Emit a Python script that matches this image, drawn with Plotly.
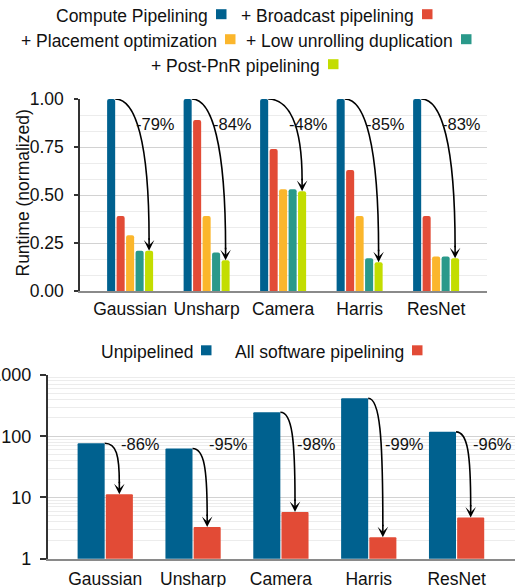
import numpy as np
import plotly.graph_objects as go

W, H = 515, 587
FONT = "Liberation Sans, Arial, sans-serif"

# ---------------- data ----------------
categories = ["Gaussian", "Unsharp", "Camera", "Harris", "ResNet"]

top_series = ["Compute Pipelining", "+ Broadcast pipelining", "+ Placement optimization",
              "+ Low unrolling duplication", "+ Post-PnR pipelining"]
compute_pipelining = [1.00, 1.00, 1.00, 1.00, 1.00]
broadcast_pipelining = [0.39, 0.89, 0.74, 0.63, 0.39]
placement_optimization = [0.29, 0.39, 0.53, 0.39, 0.18]
low_unrolling_duplication = [0.21, 0.20, 0.53, 0.17, 0.18]
post_pnr_pipelining = [0.21, 0.16, 0.52, 0.15, 0.17]
top_reduction = ["-79%", "-84%", "-48%", "-85%", "-83%"]

bottom_series = ["Unpipelined", "All software pipelining"]
unpipelined = [77, 63, 247, 418, 118]
all_software_pipelining = [11.3, 3.3, 5.8, 2.24, 4.7]
bottom_reduction = ["-86%", "-95%", "-98%", "-99%", "-96%"]

top_tickvals = [0, 0.25, 0.5, 0.75, 1.0]
top_ticktext = ["0.00", "0.25", "0.50", "0.75", "1.00"]
bottom_tickvals = [1, 10, 100, 1000]
bottom_ticktext = ["1", "10", "100", "1000"]

# ---------------- style ----------------
BLUE, RED, YELLOW, TEAL, LIME = "#00618F", "#E24B36", "#FBB62C", "#2A998A", "#C3DD00"
top_colors = [BLUE, RED, YELLOW, TEAL, LIME]
bottom_colors = [BLUE, RED]
top_values = [compute_pipelining, broadcast_pipelining, placement_optimization,
              low_unrolling_duplication, post_pnr_pipelining]
bottom_values = [unpipelined, all_software_pipelining]

XR = [-0.655, 4.665]
# plot areas in pixels (left, right, top, bottom)
TOP = (80, 487, 99, 291)
BOT = (47.7, 515, 375, 558.7)
TOP_YR = [0, 1.0]
BOT_YR = [0, 3]  # log10


def px2x(px, area):
    l, r = area[0], area[1]
    return XR[0] + (px - l) / (r - l) * (XR[1] - XR[0])


def x2px(x, area):
    l, r = area[0], area[1]
    return l + (x - XR[0]) / (XR[1] - XR[0]) * (r - l)


def py2top(py):
    t, b = TOP[2], TOP[3]
    return TOP_YR[0] + (b - py) / (b - t) * (TOP_YR[1] - TOP_YR[0])


def top2py(v):
    t, b = TOP[2], TOP[3]
    return b - (v - TOP_YR[0]) / (TOP_YR[1] - TOP_YR[0]) * (b - t)


def py2botlog(py):
    t, b = BOT[2], BOT[3]
    return BOT_YR[0] + (b - py) / (b - t) * (BOT_YR[1] - BOT_YR[0])


def bot2py(v):
    t, b = BOT[2], BOT[3]
    return b - (np.log10(v) - BOT_YR[0]) / (BOT_YR[1] - BOT_YR[0]) * (b - t)


fig = go.Figure()

# top bars
n_top = len(top_series)
top_group = 0.62
top_slot = top_group / n_top
top_bw = top_slot * 0.85
top_offsets = [-top_group / 2 + top_slot * i + (top_slot - top_bw) / 2 for i in range(n_top)]
xs = list(range(len(categories)))
for i in range(n_top):
    fig.add_trace(go.Bar(x=xs, y=top_values[i], name=top_series[i], width=top_bw,
                         offset=top_offsets[i], marker=dict(color=top_colors[i], line_width=0,
                                                            cornerradius=2),
                         showlegend=False, xaxis="x", yaxis="y"))

# bottom bars
n_bot = len(bottom_series)
bot_group = 0.642
bot_slot = bot_group / n_bot
bot_bw = bot_slot * 0.96
bot_offsets = [-bot_group / 2 + bot_slot * i + (bot_slot - bot_bw) / 2 for i in range(n_bot)]
for i in range(n_bot):
    fig.add_trace(go.Bar(x=xs, y=bottom_values[i], name=bottom_series[i], width=bot_bw,
                         offset=bot_offsets[i], marker=dict(color=bottom_colors[i], line_width=0,
                                                            cornerradius=1),
                         showlegend=False, xaxis="x2", yaxis="y2"))

shapes = []
annotations = []


def curve_path(p0, p3, a, b, conv_x, conv_y):
    x0, y0 = p0
    x3, y3 = p3
    p1 = (x0 + a * (x3 - x0), y0)
    p2 = (x3, y0 + b * (y3 - y0))
    pts = [p0, p1, p2, p3]
    s = [f"{conv_x(px):.5f},{conv_y(py):.6g}" for px, py in pts]
    return f"M{s[0]} C{s[1]} {s[2]} {s[3]}"


HEAD = 14
# top arrows
for j in range(len(categories)):
    x0 = x2px(j + top_offsets[0] + top_bw, TOP)
    y0 = top2py(compute_pipelining[j])
    xt = x2px(j + top_offsets[-1] + top_bw / 2, TOP)
    yt = top2py(post_pnr_pipelining[j])
    path = curve_path((x0, y0), (xt, yt - HEAD + 3), 0.6, 0.3,
                      lambda p: px2x(p, TOP), py2top)
    shapes.append(dict(type="path", path=path, xref="x", yref="y",
                       line=dict(color="black", width=1.6)))
    annotations.append(dict(x=px2x(xt, TOP), y=post_pnr_pipelining[j], xref="x", yref="y",
                            ax=0, ay=-HEAD, axref="pixel", ayref="pixel", text="",
                            showarrow=True, arrowhead=3, arrowsize=1.1, arrowwidth=1.6,
                            arrowcolor="black", standoff=0))
    annotations.append(dict(x=px2x(xt - 15, TOP), y=py2top(124), xref="x", yref="y",
                            text=top_reduction[j], showarrow=False, xanchor="left",
                            yanchor="middle", font=dict(size=16.5, color="#111", family=FONT)))

# bottom arrows
for j in range(len(categories)):
    x0 = x2px(j + bot_offsets[0] + bot_bw, BOT)
    y0 = bot2py(unpipelined[j])
    xt = x2px(j + bot_offsets[-1] + bot_bw / 2, BOT)
    yt = bot2py(all_software_pipelining[j])
    path = curve_path((x0, y0), (xt, yt - HEAD + 3), 0.8, 0.3,
                      lambda p: px2x(p, BOT), lambda p: 10 ** py2botlog(p))
    shapes.append(dict(type="path", path=path, xref="x2", yref="y2",
                       line=dict(color="black", width=1.6)))
    annotations.append(dict(x=px2x(xt, BOT), y=np.log10(all_software_pipelining[j]),
                            xref="x2", yref="y2", ax=0, ay=-HEAD, axref="pixel", ayref="pixel",
                            text="", showarrow=True, arrowhead=3, arrowsize=1.1, arrowwidth=1.6,
                            arrowcolor="black", standoff=0))
    annotations.append(dict(x=px2x(xt, BOT), y=py2botlog(444), xref="x2", yref="y2",
                            text=bottom_reduction[j], showarrow=False, xanchor="left",
                            yanchor="middle", font=dict(size=16.5, color="#111", family=FONT)))


# legends (text on the left, coloured square on the right)
def legend_item(text, color, sq_left, yc):
    shapes.append(dict(type="rect", xref="paper", yref="paper",
                       x0=sq_left / W, x1=(sq_left + 10.5) / W,
                       y0=1 - (yc + 5) / H, y1=1 - (yc - 5) / H,
                       fillcolor=color, line_width=0))
    annotations.append(dict(x=(sq_left - 6) / W, y=1 - (yc + 1.5) / H, xref="paper", yref="paper",
                            text=text, showarrow=False, xanchor="right", yanchor="middle",
                            font=dict(size=17.5, color="#111", family=FONT)))


top_legend_pos = [(216, 14.2), (422, 14.2), (225, 39.2), (461, 39.2), (328, 64.2)]
for i in range(n_top):
    legend_item(top_series[i], top_colors[i], *top_legend_pos[i])
bot_legend_pos = [(201, 350.3), (412, 350.3)]
for i in range(n_bot):
    legend_item(bottom_series[i], bottom_colors[i], *bot_legend_pos[i])

annotations.append(dict(x=22 / W, y=1 - 193.5 / H, xref="paper", yref="paper",
                        text="Runtime (normalized)", textangle=-90, showarrow=False,
                        xanchor="center", yanchor="middle",
                        font=dict(size=17.5, color="#111", family=FONT)))

axis_font = dict(size=17.5, color="#111", family=FONT)
fig.update_layout(
    template="none",
    width=W, height=H, margin=dict(l=0, r=0, t=0, b=0, autoexpand=False),
    paper_bgcolor="white", plot_bgcolor="white",
    barmode="overlay", font=dict(family=FONT, color="#111"),
    shapes=shapes, annotations=annotations, showlegend=False,
    xaxis=dict(domain=[TOP[0] / W, TOP[1] / W], anchor="y", range=XR, automargin=False,
               tickmode="array", tickvals=xs, ticktext=categories, ticks="",
               showgrid=False, zeroline=False, showline=True, linecolor="#8a8a8a",
               linewidth=2, tickfont=axis_font, ticklabelstandoff=1),
    yaxis=dict(domain=[1 - TOP[3] / H, 1 - TOP[2] / H], anchor="x", range=TOP_YR,
               automargin=False,
               tickmode="array", tickvals=top_tickvals, ticktext=top_ticktext,
               ticks="outside", ticklen=4, tickwidth=1.5, tickcolor="#333",
               showline=True, linecolor="#333", linewidth=1.5, ticklabelstandoff=7,
               showgrid=True, gridcolor="#d2d2d2", gridwidth=1, zeroline=False,
               minor=dict(dtick=1 / 12, tick0=0, showgrid=True, gridcolor="#ececec", ticks=""),
               tickfont=axis_font),
    xaxis2=dict(domain=[BOT[0] / W, BOT[1] / W], anchor="y2", range=XR, automargin=False,
                tickmode="array", tickvals=xs, ticktext=categories, ticks="",
                showgrid=False, zeroline=False, showline=True, linecolor="#8a8a8a",
                linewidth=2, tickfont=axis_font, ticklabelstandoff=3),
    yaxis2=dict(domain=[1 - BOT[3] / H, 1 - BOT[2] / H], anchor="x2", type="log",
                automargin=False,
                range=BOT_YR, tickmode="array", tickvals=bottom_tickvals,
                ticktext=bottom_ticktext, ticks="outside", ticklen=6, tickwidth=1.5,
                tickcolor="#333", showline=True, linecolor="#333", linewidth=1.5,
                ticklabelstandoff=5,
                showgrid=True, gridcolor="#d2d2d2", gridwidth=1, zeroline=False,
                minor=dict(dtick="D1", showgrid=True, gridcolor="#ececec", ticks=""),
                tickfont=dict(size=18, color="#111", family=FONT)),
)

fig.write_html("out.html", config={"displayModeBar": False},
               post_script="document.body.style.margin='0';")
